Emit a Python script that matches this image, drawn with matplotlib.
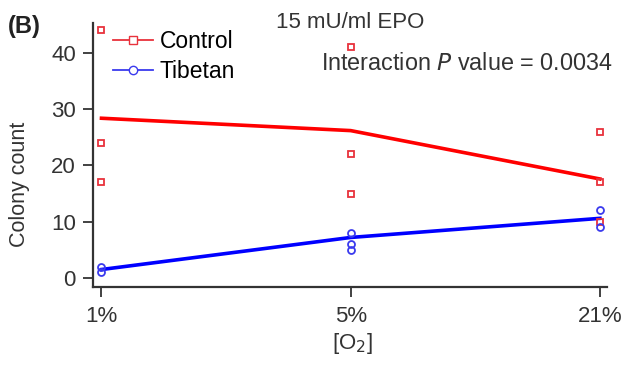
import numpy as np
import matplotlib
matplotlib.use("Agg")
import matplotlib.pyplot as plt

plt.rcParams['font.family'] = ['Liberation Sans', 'DejaVu Sans']

# 數據
o2_labels = ['1%', '5%', '21%']
control_x = [0, 0, 0, 1, 1, 1, 2, 2, 2]
control_y = [44, 24, 17, 41, 22, 15, 26, 17, 10]
tibetan_x = [0, 0, 1, 1, 1, 2, 2]
tibetan_y = [2, 1, 8, 6, 5, 12, 9]
control_fit = [28.4, 26.2, 17.6]
tibetan_fit = [1.5, 7.2, 10.6]

fig = plt.figure(figsize=(6.25, 3.68), dpi=100)
ax = fig.add_axes([0.148, 0.221, 0.823, 0.716])

xs = np.arange(len(o2_labels))
ax.plot(xs, control_fit, color='#ff0000', lw=2.6, zorder=3)
ax.plot(xs, tibetan_fit, color='#0000ff', lw=2.6, zorder=3)
ax.plot(control_x, control_y, ls='none', marker='s', ms=5, mfc='none',
        mec='#e8323c', mew=1.3, zorder=4)
ax.plot(tibetan_x, tibetan_y, ls='none', marker='o', ms=5, mfc='none',
        mec='#3a3aee', mew=1.3, zorder=4)

# 圖例
h1, = ax.plot([], [], color='#e8323c', lw=1.3, marker='s', ms=6, mfc='white', mec='#e8323c')
h2, = ax.plot([], [], color='#3a3aee', lw=1.3, marker='o', ms=6, mfc='white', mec='#3a3aee')
ax.legend([h1, h2], ['Control', 'Tibetan'], loc='upper left',
          bbox_to_anchor=(113 / 625, 0.918), bbox_transform=fig.transFigure,
          frameon=False, fontsize=16.5, handlelength=1.75, handletextpad=0.3,
          labelspacing=0.28, borderaxespad=0, borderpad=0)

ax.set_xlim(-0.036, 2.028)
ax.set_ylim(-1.55, 45.3)
ax.set_xticks(xs)
ax.set_xticklabels(o2_labels)
ax.set_yticks([0, 10, 20, 30, 40])
ax.tick_params(labelsize=16, length=7, width=1.3, color='#333333', labelcolor='#333333')
ax.tick_params(axis='x', pad=7)
ax.tick_params(axis='y', pad=5)
for s in ['top', 'right']:
    ax.spines[s].set_visible(False)
for s in ['left', 'bottom']:
    ax.spines[s].set_linewidth(1.6)
    ax.spines[s].set_color('#333333')

ax.set_ylabel('Colony count', fontsize=15.5, color='#333333')
ax.yaxis.set_label_coords(20 / 625, 0.5, transform=fig.transFigure)
ax.yaxis.label.set_va('center')
ax.set_xlabel('[O$_2$]', fontsize=16, color='#333333')
ax.xaxis.set_label_coords(352.7 / 625, 1 - 344 / 368, transform=fig.transFigure)
ax.xaxis.label.set_va('center')

fig.text(0.013, 1 - 32.5 / 368, '(B)', fontsize=17, fontweight='bold', color='#222222')
fig.text(350 / 625, 1 - 28.5 / 368, '15 mU/ml EPO', fontsize=16, ha='center', color='#333333')
fig.text(612 / 625, 1 - 70 / 368, 'Interaction $\\it{P}$ value = 0.0034', fontsize=16.8,
         ha='right', color='#333333')

fig.savefig('out.png', dpi=100)
